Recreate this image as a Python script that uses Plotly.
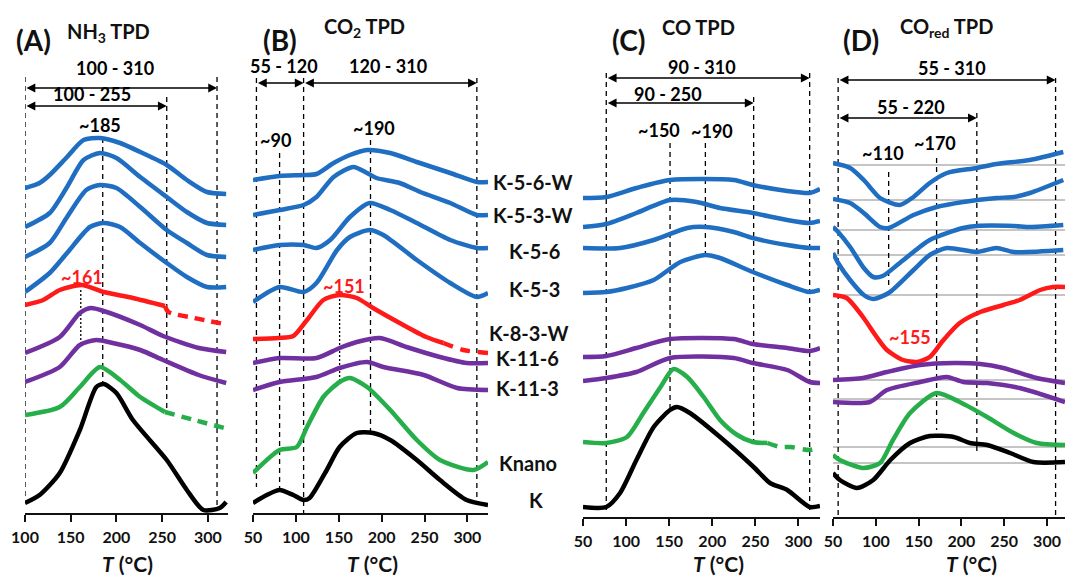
import plotly.graph_objects as go

W, H = 1065, 577
FONT = "Lato"
BLUE = "#1F6EC2"
RED = "#FF1A1A"
PURPLE = "#7030A0"
GREEN = "#26AE4A"
BLACK = "#000000"
GRAY = "#8C8C8C"

# ---------------- Panel A : NH3 TPD (T in degC, intensity in a.u.) ----------------
A_K56W_T = [100, 116, 127, 146, 164, 182, 204, 226, 255, 277, 299, 320]
A_K56W = [325, 330, 338, 356, 373, 375, 370, 361, 348, 333, 321, 319]
A_K53W_T = [100, 127, 146, 164, 182, 200, 226, 255, 277, 299, 320]
A_K53W = [286, 300, 326, 353, 360, 355, 336, 316, 301, 290, 288]
A_K56_T = [100, 127, 146, 167, 182, 200, 226, 255, 277, 299, 320]
A_K56 = [256, 270, 296, 323, 328, 325, 306, 283, 270, 258, 256]
A_K53_T = [100, 127, 146, 171, 186, 204, 226, 255, 277, 299, 320]
A_K53 = [221, 240, 260, 286, 290, 286, 270, 250, 236, 226, 226]
A_K83W_T = [100, 120, 138, 162, 186, 218, 253]
A_K83W = [208, 213, 223, 228, 221, 215, 207]
A_K83W_EXT_T = [253, 257, 285, 318]
A_K83W_EXT = [207, 201, 195, 189]
A_K116_T = [100, 138, 160, 172, 186, 226, 251, 290, 320]
A_K116 = [160, 176, 200, 205, 202, 188, 177, 165, 161]
A_K113_T = [100, 138, 160, 178, 196, 226, 251, 290, 320]
A_K113 = [131, 146, 168, 173, 170, 163, 153, 138, 130]
A_KNANO_T = [100, 138, 160, 182, 204, 226, 253]
A_KNANO = [98, 106, 126, 146, 133, 116, 101]
A_KNANO_EXT_T = [253, 285, 318]
A_KNANO_EXT = [101, 93, 85]
A_K_T = [100, 116, 138, 160, 178, 186, 200, 218, 255, 277, 295, 313, 320]
A_K = [10, 18, 40, 83, 126, 129, 120, 93, 53, 23, 3, 5, 11]

# ---------------- Panel B : CO2 TPD ----------------
B_K56W_T = [50, 81, 109, 124, 144, 163, 183, 210, 241, 280, 311, 324]
B_K56W = [333, 337, 338, 339, 350, 358, 363, 360, 351, 340, 331, 331]
B_K53W_T = [50, 81, 109, 124, 144, 167, 183, 194, 221, 245, 280, 311, 324]
B_K53W = [298, 303, 308, 316, 336, 346, 340, 335, 330, 321, 310, 298, 298]
B_K56_T = [50, 81, 109, 124, 140, 163, 186, 210, 241, 280, 311, 324]
B_K56 = [263, 268, 268, 265, 273, 296, 310, 303, 290, 273, 265, 265]
B_K53_T = [50, 81, 109, 124, 148, 163, 186, 202, 241, 280, 311, 324]
B_K53 = [211, 226, 221, 230, 263, 276, 283, 278, 253, 230, 216, 220]
B_K83W_T = [50, 80, 97, 113, 132, 151, 171, 190, 221, 252, 272]
B_K83W = [174, 175, 177, 193, 213, 218, 215, 205, 190, 176, 170]
B_K83W_EXT_T = [272, 295, 324]
B_K83W_EXT = [170, 163, 160]
B_K116_T = [50, 81, 124, 151, 171, 198, 229, 268, 299, 324]
B_K116 = [150, 155, 155, 165, 171, 175, 166, 156, 150, 150]
B_K113_T = [50, 81, 124, 151, 183, 202, 249, 288, 324]
B_K113 = [123, 131, 136, 145, 151, 146, 138, 125, 123]
B_KNANO_T = [50, 81, 101, 113, 132, 151, 163, 183, 210, 241, 268, 307, 324]
B_KNANO = [40, 63, 66, 86, 116, 131, 135, 126, 103, 73, 53, 43, 51]
B_K_T = [50, 66, 81, 97, 109, 116, 136, 151, 171, 190, 210, 241, 268, 299, 324]
B_K = [10, 18, 23, 18, 13, 15, 43, 66, 80, 80, 73, 53, 33, 13, 8]

# ---------------- Panel C : CO TPD ----------------
C_K56W_T = [50, 77, 112, 151, 225, 247, 287, 313, 325]
C_K56W = [319, 320, 329, 337, 337, 332, 326, 324, 328]
C_K53W_T = [50, 77, 112, 151, 182, 209, 247, 287, 313, 325]
C_K53W = [290, 293, 304, 317, 315, 309, 304, 297, 294, 296]
C_K56_T = [50, 93, 132, 171, 192, 225, 247, 287, 313, 325]
C_K56 = [269, 269, 277, 289, 290, 285, 279, 272, 269, 269]
C_K53_T = [50, 77, 101, 132, 163, 192, 209, 247, 287, 313, 325]
C_K53 = [224, 225, 229, 237, 255, 262, 259, 245, 232, 225, 227]
C_K116_T = [50, 77, 112, 151, 225, 247, 287, 313, 325]
C_K116 = [160, 161, 169, 178, 178, 173, 169, 166, 169]
C_K113_T = [50, 77, 112, 151, 225, 247, 287, 313, 325]
C_K113 = [136, 139, 145, 159, 159, 154, 147, 135, 134]
C_KNANO_T = [50, 77, 101, 120, 140, 155, 171, 190, 209, 229, 247, 264]
C_KNANO = [75, 74, 80, 104, 130, 148, 140, 120, 97, 82, 75, 74]
C_KNANO_EXT_T = [264, 279, 291, 313, 325]
C_KNANO_EXT = [74, 70, 70, 67, 70]
C_K_T = [50, 77, 93, 112, 132, 151, 159, 174, 209, 248, 267, 287, 313, 325]
C_K = [10, 10, 24, 57, 90, 107, 110, 104, 80, 50, 34, 27, 10, 11]

# ---------------- Panel D : COred TPD ----------------
D_K56W_T = [50, 70, 86, 105, 128, 144, 163, 183, 218, 241, 280, 319]
D_K56W = [354, 349, 337, 319, 312, 320, 334, 344, 349, 353, 357, 365]
D_K53W_T = [50, 70, 86, 105, 115, 144, 171, 202, 241, 261, 280, 319]
D_K53W = [318, 314, 304, 290, 289, 302, 310, 315, 319, 320, 324, 337]
D_K56_T = [50, 56, 70, 86, 97, 108, 128, 163, 202, 218, 261, 280, 319]
D_K56 = [290, 285, 270, 249, 240, 241, 254, 277, 289, 291, 291, 290, 292]
D_K53_T = [50, 56, 70, 86, 97, 115, 144, 163, 183, 218, 241, 261, 319]
D_K53 = [264, 254, 237, 222, 218, 224, 247, 262, 269, 265, 269, 265, 267]
D_K83W_T = [50, 66, 85, 101, 113, 132, 148, 163, 179, 198, 222, 249, 268, 292, 307, 321]
D_K83W = [222, 219, 200, 180, 167, 157, 155, 160, 177, 194, 205, 212, 217, 227, 230, 230]
D_K116_T = [50, 85, 113, 152, 191, 222, 249, 288, 321]
D_K116 = [137, 139, 145, 152, 154, 153, 149, 139, 134]
D_K113_T = [50, 93, 113, 152, 183, 202, 230, 268, 321]
D_K113 = [115, 115, 127, 135, 140, 135, 134, 129, 115]
D_KNANO_T = [50, 58, 85, 105, 120, 140, 171, 198, 230, 261, 288, 321]
D_KNANO = [62, 57, 49, 54, 77, 104, 124, 115, 100, 84, 74, 72]
D_K_T = [50, 58, 78, 97, 117, 140, 163, 191, 210, 230, 257, 284, 321]
D_K = [44, 37, 29, 37, 57, 74, 81, 80, 74, 72, 64, 55, 55]
D_BASELINES = [352, 317, 287, 262, 222, 137, 118, 70, 54]

# ---------------- Reference temperatures (dashed markers) ----------------
A_VLINE_T = [100, 185, 255, 310]
A_VLINE_TOP = [436, 375, 416, 436]
A_VLINE_BOT = [13, 130, 101, 3]
B_VLINE_T = [54, 81, 109, 187, 311]
B_VLINE_TOP = [435, 360, 435, 373, 435]
B_VLINE_BOT = [26, 18, 0, 80, 13]
C_VLINE_T = [77, 151, 192, 248, 313]
C_VLINE_TOP = [444, 374, 374, 420, 444]
C_VLINE_BOT = [7, 107, 260, 74, 7]
D_VLINE_T = [56, 115, 171, 218, 310]
D_VLINE_TOP = [439, 345, 359, 404, 439]
D_VLINE_BOT = [2, 230, 87, 62, 2]
# dotted peak markers (panel, T, top, bottom)
DOTTED = [("A", 161, 223, 170), ("B", 151, 218, 130)]

# ranges (panel, T start, T end, arrow level, label, label T, label level)
RANGES = [
    ("A", 100, 310, 425, "100 - 310", 198, 445),
    ("A", 100, 255, 407, "100 - 255", 173, 419),
    ("B", 54, 109, 430, "55 - 120", 86, 447),
    ("B", 109, 311, 430, "120 - 310", 207, 447),
    ("C", 77, 313, 439, "90 - 310", 188, 450),
    ("C", 77, 248, 414, "90 - 250", 149, 423),
    ("D", 56, 310, 437, "55 - 310", 189, 449),
    ("D", 56, 218, 399, "55 - 220", 141, 410),
]
PEAKS = [
    ("A", "~185", 182, 388, BLACK), ("A", "~161", 162, 236, RED),
    ("B", "~90", 76, 373, BLACK), ("B", "~190", 191, 385, BLACK), ("B", "~151", 156, 227, RED),
    ("C", "~150", 138, 387, BLACK), ("C", "~190", 200, 386, BLACK),
    ("D", "~110", 108, 364, BLACK), ("D", "~170", 169, 374, BLACK), ("D", "~155", 140, 180, RED),
]
SAMPLES = ["K-5-6-W", "K-5-3-W", "K-5-6", "K-5-3", "K-8-3-W", "K-11-6", "K-11-3", "Knano", "K"]
SAMPLE_LABEL_X = [491, 491, 507, 507, 487, 494, 494, 497, 527]
SAMPLE_LABEL_Y = [182, 215, 251, 289, 333, 358, 388, 463, 500]

TITLES = [("(A)", 33, 40, 28), ("NH<sub>3</sub> TPD", 108, 33, 20),
          ("(B)", 280, 40, 28), ("CO<sub>2</sub> TPD", 364, 27, 20),
          ("(C)", 628, 40, 28), ("CO TPD", 698, 27, 20),
          ("(D)", 861, 40, 28), ("CO<sub>red</sub> TPD", 946, 27, 20)]
XTITLE_X = [127, 372, 718, 971]
XTITLE_Y = 563

# panel geometry: axis ids, T range, pixel domain, axis line y (px), ticks
PANELS = {
    "A": ("x", "y", [100, 322], [25, 228], 513, [100, 150, 200, 250, 300]),
    "B": ("x2", "y2", [50, 324], [253, 488], 513, [50, 100, 150, 200, 250, 300]),
    "C": ("x3", "y3", [50, 325], [583, 820], 517, [50, 100, 150, 200, 250, 300]),
    "D": ("x4", "y4", [50, 321], [833, 1065], 517, [50, 100, 150, 200, 250, 300]),
}

fig = go.Figure()


def axes(p):
    return dict(xaxis=PANELS[p][0], yaxis=PANELS[p][1])


def line(p, T, I, color, width=4.5, dash=None, spline=True):
    fig.add_trace(go.Scatter(
        x=T, y=I, mode="lines", showlegend=False, hoverinfo="skip",
        line=dict(color=color, width=width, dash=dash,
                  shape="spline" if spline else "linear", smoothing=0.7),
        **axes(p)))


# gray baselines in D
for b in D_BASELINES:
    line("D", [PANELS["D"][2][0], PANELS["D"][2][1]], [b, b], GRAY, width=1.2, spline=False)

# dashed vertical markers
for p, Ts, tops, bots in [("A", A_VLINE_T, A_VLINE_TOP, A_VLINE_BOT),
                          ("B", B_VLINE_T, B_VLINE_TOP, B_VLINE_BOT),
                          ("C", C_VLINE_T, C_VLINE_TOP, C_VLINE_BOT),
                          ("D", D_VLINE_T, D_VLINE_TOP, D_VLINE_BOT)]:
    for t, top, bot in zip(Ts, tops, bots):
        line(p, [t, t], [top, bot], BLACK, width=1.3, dash="5px,4px", spline=False)
for p, t, top, bot in DOTTED:
    line(p, [t, t], [top, bot], BLACK, width=1.3, dash="2px,2px", spline=False)

colors = [BLUE, BLUE, BLUE, BLUE, RED, PURPLE, PURPLE, GREEN, BLACK]
panel_data = {
    "A": [(A_K56W_T, A_K56W), (A_K53W_T, A_K53W), (A_K56_T, A_K56), (A_K53_T, A_K53),
          (A_K83W_T, A_K83W), (A_K116_T, A_K116), (A_K113_T, A_K113), (A_KNANO_T, A_KNANO), (A_K_T, A_K)],
    "B": [(B_K56W_T, B_K56W), (B_K53W_T, B_K53W), (B_K56_T, B_K56), (B_K53_T, B_K53),
          (B_K83W_T, B_K83W), (B_K116_T, B_K116), (B_K113_T, B_K113), (B_KNANO_T, B_KNANO), (B_K_T, B_K)],
    "C": [(C_K56W_T, C_K56W), (C_K53W_T, C_K53W), (C_K56_T, C_K56), (C_K53_T, C_K53),
          None, (C_K116_T, C_K116), (C_K113_T, C_K113), (C_KNANO_T, C_KNANO), (C_K_T, C_K)],
    "D": [(D_K56W_T, D_K56W), (D_K53W_T, D_K53W), (D_K56_T, D_K56), (D_K53_T, D_K53),
          (D_K83W_T, D_K83W), (D_K116_T, D_K116), (D_K113_T, D_K113), (D_KNANO_T, D_KNANO), (D_K_T, D_K)],
}
for p, series in panel_data.items():
    for s, c in zip(series, colors):
        if s is not None:
            line(p, s[0], s[1], c)

# dashed extensions
line("A", A_K83W_EXT_T, A_K83W_EXT, RED, dash="10px,7px")
line("A", A_KNANO_EXT_T, A_KNANO_EXT, GREEN, dash="10px,7px")
line("B", B_K83W_EXT_T, B_K83W_EXT, RED, dash="10px,8px")
line("C", C_KNANO_EXT_T, C_KNANO_EXT, GREEN, dash="10px,8px")

annotations = []
for p, t0, t1, lvl, lab, lt, ll in RANGES:
    xr, yr = PANELS[p][0], PANELS[p][1]
    annotations.append(dict(x=t1, y=lvl, ax=t0, ay=lvl, xref=xr, yref=yr, axref=xr, ayref=yr,
                            text="", showarrow=True, arrowhead=2, startarrowhead=2,
                            arrowside="end+start", arrowsize=1.1, startarrowsize=1.1,
                            arrowwidth=1.6, arrowcolor=BLACK, standoff=0, startstandoff=0))
    annotations.append(dict(x=lt, y=ll, xref=xr, yref=yr, text=lab, showarrow=False,
                            xanchor="center", yanchor="middle",
                            font=dict(family=FONT, size=18, color=BLACK, weight="bold")))
for p, lab, t, lvl, c in PEAKS:
    annotations.append(dict(x=t, y=lvl, xref=PANELS[p][0], yref=PANELS[p][1], text=lab,
                            showarrow=False, xanchor="center", yanchor="middle",
                            font=dict(family=FONT, size=18, color=c, weight="bold")))
for lab, sx, sy in zip(SAMPLES, SAMPLE_LABEL_X, SAMPLE_LABEL_Y):
    annotations.append(dict(x=sx / W, y=1 - sy / H, xref="paper", yref="paper", text=lab,
                            xanchor="left", yanchor="middle", showarrow=False,
                            font=dict(family=FONT, size=20, color="#111111", weight="bold")))
for lab, tx, ty, fs in TITLES:
    annotations.append(dict(x=tx / W, y=1 - ty / H, xref="paper", yref="paper", text=lab,
                            showarrow=False, xanchor="center", yanchor="middle",
                            font=dict(family=FONT, size=fs, color="#111111", weight="bold")))
for tx in XTITLE_X:
    annotations.append(dict(x=tx / W, y=1 - XTITLE_Y / H, xref="paper", yref="paper",
                            text="<i>T</i> (°C)", showarrow=False,
                            xanchor="center", yanchor="middle",
                            font=dict(family=FONT, size=21, color="#111111", weight="bold")))

layout = dict(width=W, height=H, margin=dict(l=0, r=0, t=0, b=0, pad=0), autosize=False,
              paper_bgcolor="white", plot_bgcolor="white", showlegend=False,
              annotations=annotations)
for p, (xa, ya, xr, dom, axy, ticks) in PANELS.items():
    xkey = "xaxis" + xa[1:]
    ykey = "yaxis" + ya[1:]
    layout[xkey] = dict(domain=[dom[0] / W, dom[1] / W], range=xr, anchor=ya,
                        automargin=False,
                        showline=True, linecolor="#111111", linewidth=1.6,
                        ticks="outside", ticklen=7, tickwidth=1.5, tickcolor="#111111",
                        tickvals=ticks, showgrid=False, zeroline=False,
                        ticklabelstandoff=2,
                        tickfont=dict(family=FONT, size=16, color="#111111", weight="bold"))
    layout[ykey] = dict(domain=[(H - axy) / H, 1], range=[0, axy], anchor=xa,
                        automargin=False,
                        visible=False, showgrid=False, zeroline=False)

fig.update_layout(**layout)
fig.write_html("out.html",
               config={"displayModeBar": False},
               post_script="document.body.style.margin='0';document.body.style.overflow='hidden';")
